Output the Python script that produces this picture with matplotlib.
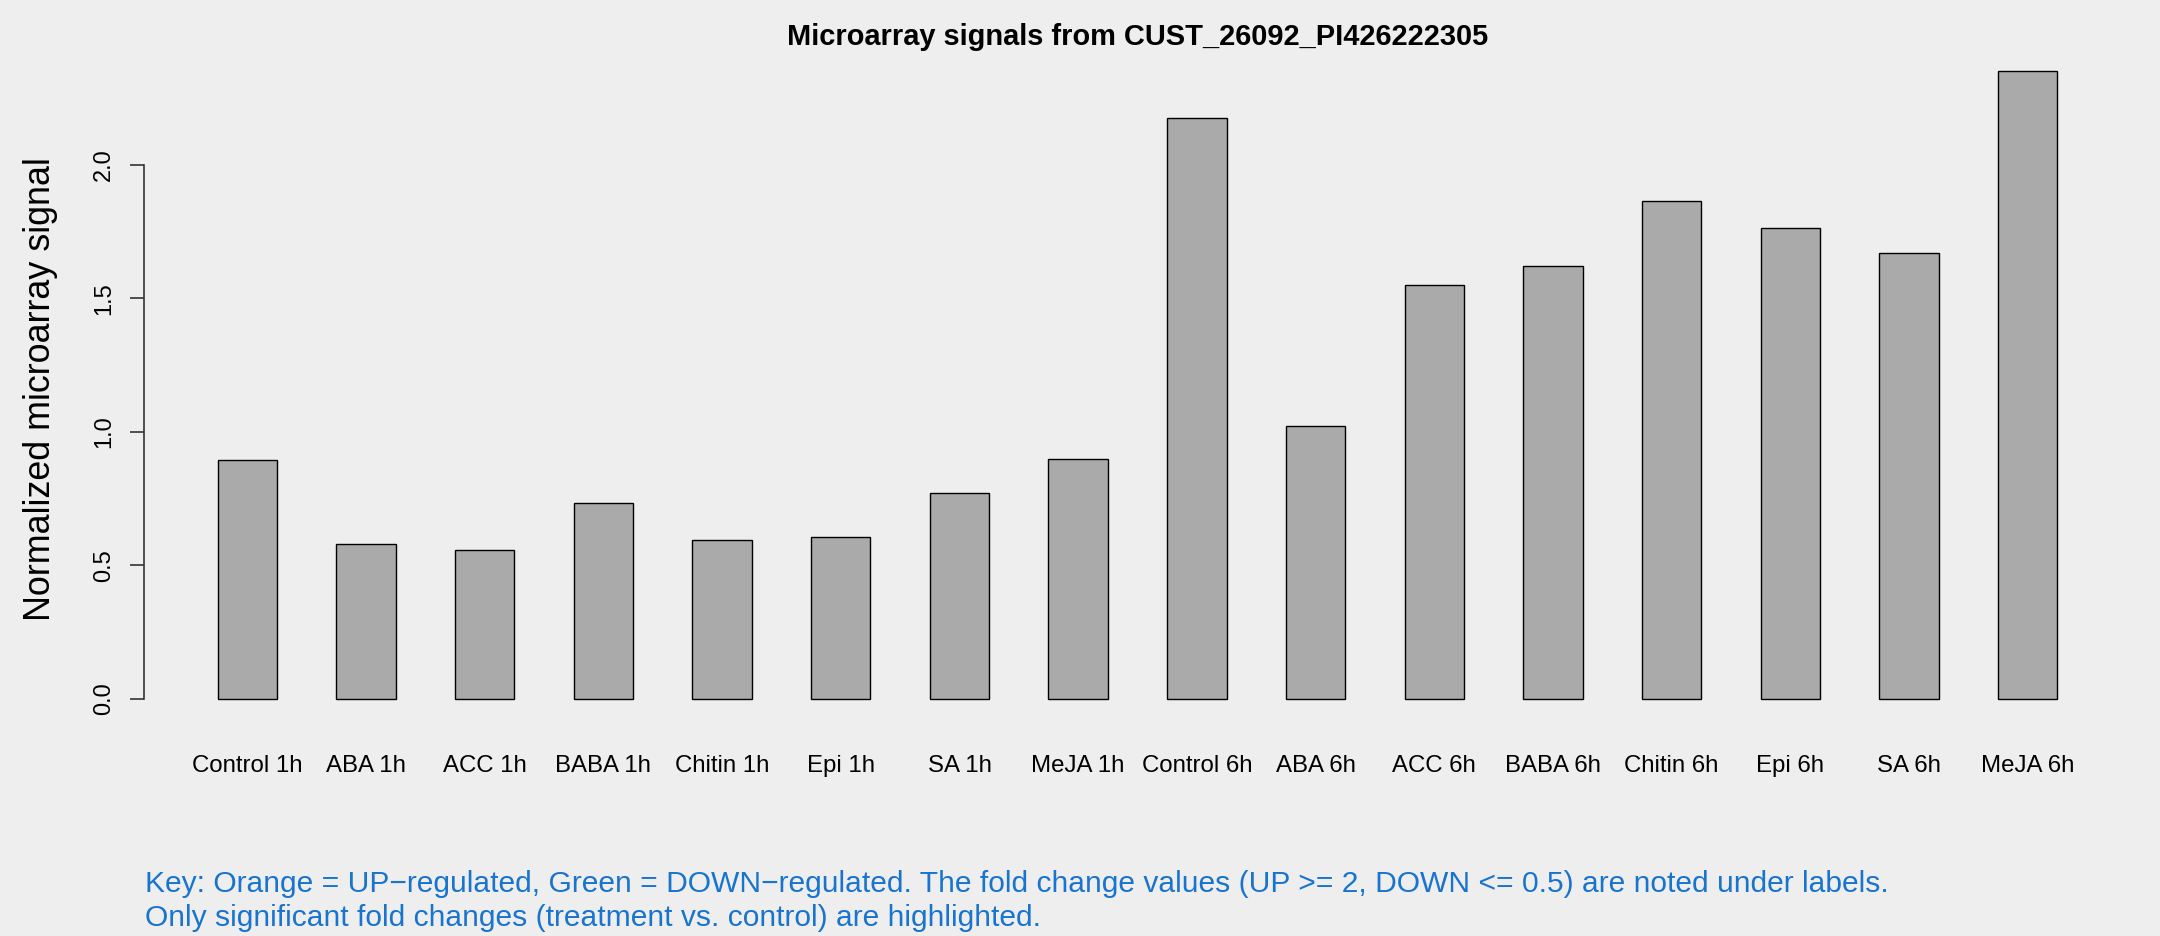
import matplotlib
matplotlib.use("Agg")
import matplotlib.pyplot as plt

categories = ["Control 1h", "ABA 1h", "ACC 1h", "BABA 1h", "Chitin 1h", "Epi 1h", "SA 1h", "MeJA 1h",
              "Control 6h", "ABA 6h", "ACC 6h", "BABA 6h", "Chitin 6h", "Epi 6h", "SA 6h", "MeJA 6h"]
values = [0.894, 0.579, 0.558, 0.734, 0.594, 0.605, 0.770, 0.899,
          2.176, 1.023, 1.550, 1.623, 1.866, 1.762, 1.669, 2.351]
yticks = [0.0, 0.5, 1.0, 1.5, 2.0]
ytick_labels = ["0.0", "0.5", "1.0", "1.5", "2.0"]
title = "Microarray signals from CUST_26092_PI426222305"
ylabel = "Normalized microarray signal"
key_lines = ["Key: Orange = UP\u2212regulated, Green = DOWN\u2212regulated. The fold change values (UP >= 2, DOWN <= 0.5) are noted under labels.",
             "Only significant fold changes (treatment vs. control) are highlighted."]

plt.rcParams['font.family'] = ['Liberation Sans', 'DejaVu Sans']
bg = "#EEEEEE"
W, H = 2160, 936
fig = plt.figure(figsize=(W / 100, H / 100), dpi=100, facecolor=bg)
ax = fig.add_axes([144 / W, 1 - 724 / H, (2131 - 144) / W, (724 - 46) / H])
ax.set_facecolor(bg)

n = len(values)
centers = [1.5 + 2 * i for i in range(n)]
ax.bar(centers, values, width=1.0, color="#AAAAAA", edgecolor="black", linewidth=1.0)

x0, x1 = 1, 2 * n
pad = 0.04 * (x1 - x0)
ax.set_xlim(x0 - pad, x1 + pad)
vmax = max(values)
ax.set_ylim(-0.04 * vmax, 1.04 * vmax)

for s in ["top", "right", "bottom"]:
    ax.spines[s].set_visible(False)
ax.spines["left"].set_bounds(0, 2.0)
ax.spines["left"].set_color("#333333")
ax.spines["left"].set_linewidth(1.2)

ax.set_yticks(yticks)
ax.set_yticklabels(ytick_labels, rotation=90, va="center", fontsize=17)
ax.tick_params(axis="y", length=10, width=1.2, color="#333333", pad=11)

ax.set_xticks(centers)
ax.set_xticklabels(categories, fontsize=17.3)
ax.tick_params(axis="x", length=0, pad=22)

fig.text(41 / W, 1 - 389 / H, ylabel, rotation=90, ha="center", va="center", fontsize=25.8)

fig.text(1138 / W, 1 - 37 / H, title, ha="center", va="center", fontsize=20.9, fontweight="bold")

fig.text(145 / W, 1 - 884 / H, key_lines[0], ha="left", va="center", fontsize=21.6, color="#1874CD")
fig.text(145 / W, 1 - 918 / H, key_lines[1], ha="left", va="center", fontsize=21.6, color="#1874CD")

fig.savefig("out.png", dpi=100, facecolor=bg)
